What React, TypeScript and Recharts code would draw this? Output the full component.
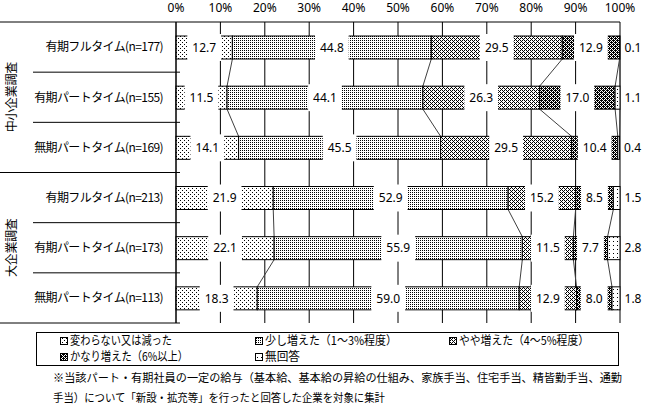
import React from "react";
import { BarChart, Bar, XAxis, YAxis, CartesianGrid } from "recharts";

const CATEGORIES = [
  "有期フルタイム(n=177)",
  "有期パートタイム(n=155)",
  "無期パートタイム(n=169)",
  "有期フルタイム(n=213)",
  "有期パートタイム(n=173)",
  "無期パートタイム(n=113)",
];
const GROUPS = ["中小企業調査", "中小企業調査", "中小企業調査", "大企業調査", "大企業調査", "大企業調査"];
const SERIES_NAMES = [
  "変わらない又は減った",
  "少し増えた（1～3%程度）",
  "やや増えた（4～5%程度）",
  "かなり増えた（6%以上）",
  "無回答",
];
const UNCHANGED = [12.7, 11.5, 14.1, 21.9, 22.1, 18.3];
const SLIGHT = [44.8, 44.1, 45.5, 52.9, 55.9, 59.0];
const SOMEWHAT = [29.5, 26.3, 29.5, 15.2, 11.5, 12.9];
const CONSIDERABLE = [12.9, 17.0, 10.4, 8.5, 7.7, 8.0];
const NO_ANSWER = [0.1, 1.1, 0.4, 1.5, 2.8, 1.8];
const X_TICKS = [0, 10, 20, 30, 40, 50, 60, 70, 80, 90, 100];
const FOOTNOTE = [
  "※当該パート・有期社員の一定の給与（基本給、基本給の昇給の仕組み、家族手当、住宅手当、精皆勤手当、通勤",
  "手当）について「新設・拡充等」を行ったと回答した企業を対象に集計",
];

const SERIES = [UNCHANGED, SLIGHT, SOMEWHAT, CONSIDERABLE, NO_ANSWER];
const KEYS = ["s1", "s2", "s3", "s4", "s5"];

const data = CATEGORIES.map((name, i) => {
  const row: any = { name, idx: i };
  SERIES.forEach((s, k) => (row[KEYS[k]] = s[i]));
  return row;
});

// layout
const W = 645;
const CHART_H = 330;
const MARGIN = { top: 0, right: 25, bottom: 7, left: 0 };
const X_AXIS_H = 22;
const Y_AXIS_W = 176;
const PLOT_H = CHART_H - MARGIN.top - MARGIN.bottom - X_AXIS_H;
const BAND = PLOT_H / CATEGORIES.length;
const BAR_SIZE = 23;

const JP = "'Noto Sans CJK JP', 'Noto Sans', sans-serif";
const NUM = "'Noto Sans', 'DejaVu Sans', sans-serif";

const dots = (pts: number[][]) =>
  pts.map(([x, y]) => <rect key={`${x}-${y}`} x={x} y={y} width={1} height={1} fill="#000" />);

const Patterns = ({ p }: { p: string }) => (
  <defs>
    <pattern id={`${p}1`} width={4} height={4} patternUnits="userSpaceOnUse">
      <rect width={4} height={4} fill="#fff" />
      {dots([[0, 0], [2, 2]])}
    </pattern>
    <pattern id={`${p}2`} width={2} height={2} patternUnits="userSpaceOnUse">
      <rect width={2} height={2} fill="#fff" />
      {dots([[0, 0]])}
    </pattern>
    <pattern id={`${p}3`} width={4} height={4} patternUnits="userSpaceOnUse">
      <rect width={4} height={4} fill="#fff" />
      {dots([[0, 0], [2, 0], [1, 1], [0, 2], [2, 2], [3, 3]])}
    </pattern>
    <pattern id={`${p}4`} width={4} height={4} patternUnits="userSpaceOnUse">
      <rect width={4} height={4} fill="#fff" />
      {dots([[0, 0], [2, 0], [1, 1], [3, 1], [0, 2], [2, 2], [1, 3], [3, 3], [1, 0], [3, 2]])}
    </pattern>
    <pattern id={`${p}5`} width={4} height={4} patternUnits="userSpaceOnUse">
      <rect width={4} height={4} fill="#fff" />
      {dots([[1, 1]])}
    </pattern>
  </defs>
);

const makeShape = (k: number) => (props: any) => {
  const { x, y, width, height, payload } = props;
  const i = payload.idx;
  const value = SERIES[k][i];
  const txt = value.toFixed(1);
  const cy = y + height / 2;
  const parts: React.ReactNode[] = [
    <rect key="r" x={x} y={y} width={width} height={height} fill={`url(#cp${k + 1})`} stroke="#000" strokeWidth={1} />,
  ];
  if (k < 4) {
    // white label box over the middle of the segment
    const bw = (txt.length - 1) * 6.85 + 3.2 + 10;
    const cx = x + width / 2;
    parts.push(<rect key="b" x={cx - bw / 2} y={y - 2} width={bw} height={height + 4} fill="#fff" />);
    parts.push(
      <text key="t" x={cx} y={cy} dy="0.36em" textAnchor="middle" fontSize={12} fontFamily={NUM} fill="#000">
        {txt}
      </text>
    );
  } else {
    parts.push(
      <text key="t" x={x + width + 13} y={cy} dy="0.36em" textAnchor="middle" fontSize={12} fontFamily={NUM} fill="#000">
        {txt}
      </text>
    );
  }
  // series lines between neighbouring bars of the same survey
  if (k === 0 && i + 1 < CATEGORIES.length && GROUPS[i + 1] === GROUPS[i]) {
    const ppu = width / value;
    let a = 0;
    let b = 0;
    SERIES.forEach((s, j) => {
      a += s[i];
      b += s[i + 1];
      parts.push(
        <line key={`l${j}`} x1={x + a * ppu} y1={y + height} x2={x + b * ppu} y2={y + BAND} stroke="#404040" strokeWidth={1} />
      );
    });
  }
  return <g>{parts}</g>;
};

const CategoryTick = (props: any) => {
  const { y, payload, index } = props;
  const right = Y_AXIS_W - 13;
  const lastInGroup = index === CATEGORIES.length - 1 || GROUPS[index + 1] !== GROUPS[index];
  const groupSize = GROUPS.filter((g) => g === GROUPS[index]).length;
  const groupStart = GROUPS.indexOf(GROUPS[index]);
  const isMid = index === groupStart + Math.floor(groupSize / 2);
  return (
    <g>
      {index === 0 && <line x1={0} x2={Y_AXIS_W} y1={y - BAND / 2} y2={y - BAND / 2} stroke="#000" />}
      <line x1={lastInGroup ? 0 : 33} x2={Y_AXIS_W + 4} y1={y + BAND / 2} y2={y + BAND / 2} stroke="#000" />
      <text x={right} y={y} dy="0.36em" textAnchor="end" fontSize={12} letterSpacing={-0.6} fontFamily={JP} fill="#000">
        {payload.value}
      </text>
      {isMid && (
        <text
          x={12}
          y={y}
          dy="0.36em"
          textAnchor="middle"
          fontSize={12}
          letterSpacing={-0.3}
          fontFamily={JP}
          fill="#000"
          transform={`rotate(-90 12 ${y})`}
        >
          {GROUPS[index]}
        </text>
      )}
    </g>
  );
};

const PercentTick = (props: any) => {
  const { x, payload } = props;
  return (
    <text x={x} y={12} textAnchor="middle" fontSize={12} fontFamily={NUM} fill="#000">
      {`${payload.value}%`}
    </text>
  );
};

const LEGEND_POS = [
  { x: 60, y: 341, w: 102 },
  { x: 255, y: 341, w: 132 },
  { x: 449, y: 341, w: 130 },
  { x: 60, y: 357, w: 118 },
  { x: 255, y: 357, w: 35 },
];

const Notes = () => (
  <svg width={W} height={405} style={{ position: "absolute", left: 0, top: 0, pointerEvents: "none" }}>
    <Patterns p="lp" />
    <rect x={36.5} y={332.5} width={582} height={33} fill="none" stroke="#000" strokeWidth={1} />
    {SERIES_NAMES.map((n, k) => {
      const p = LEGEND_POS[k];
      return (
        <g key={n}>
          <rect x={p.x + 0.5} y={p.y - 3.5} width={7} height={7} fill={`url(#lp${k + 1})`} stroke="#000" strokeWidth={1} />
          <text
            x={p.x + 10}
            y={p.y}
            dy="0.36em"
            fontSize={12}
            fontFamily={JP}
            fill="#000"
            textLength={p.w}
            lengthAdjust="spacingAndGlyphs"
          >
            {n}
          </text>
        </g>
      );
    })}
    <text x={53} y={378} dy="0.36em" fontSize={11.5} fontFamily={JP} fill="#000" textLength={569} lengthAdjust="spacingAndGlyphs">
      {FOOTNOTE[0]}
    </text>
    <text x={53} y={398} dy="0.36em" fontSize={11.5} fontFamily={JP} fill="#000" textLength={332} lengthAdjust="spacingAndGlyphs">
      {FOOTNOTE[1]}
    </text>
  </svg>
);

export default function App() {
  return (
    <div style={{ position: "absolute", left: 0, top: 0, width: W, height: 405, background: "#fff" }}>
      <BarChart width={W} height={CHART_H} data={data} layout="vertical" margin={MARGIN}>
        <Patterns p="cp" />
        <CartesianGrid horizontal={false} vertical stroke="#000" strokeWidth={1} />
        <XAxis
          type="number"
          orientation="top"
          domain={[0, 100]}
          ticks={X_TICKS}
          height={X_AXIS_H}
          tickLine={false}
          axisLine={{ stroke: "#000" }}
          tick={PercentTick}
          interval={0}
        />
        <YAxis
          type="category"
          dataKey="name"
          width={Y_AXIS_W}
          tickLine={false}
          axisLine={{ stroke: "#000" }}
          tick={CategoryTick}
          interval={0}
        />
        {KEYS.map((key, k) => (
          <Bar
            key={key}
            dataKey={key}
            stackId="a"
            barSize={BAR_SIZE}
            isAnimationActive={false}
            shape={makeShape(k)}
          />
        ))}
      </BarChart>
      <Notes />
    </div>
  );
}
